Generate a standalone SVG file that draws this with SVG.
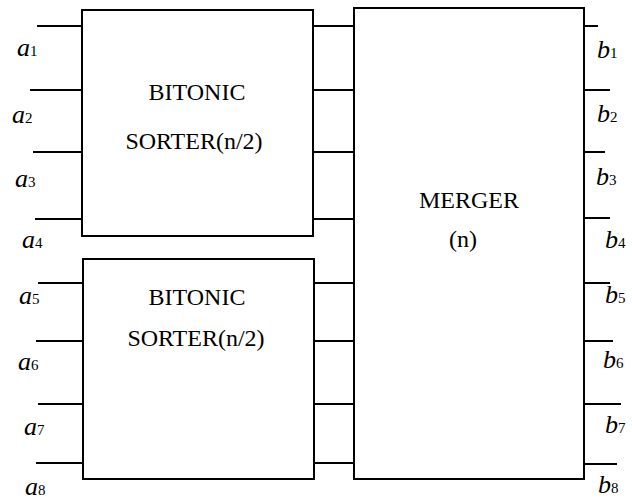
<svg xmlns="http://www.w3.org/2000/svg" width="632" height="501" viewBox="0 0 632 501">
<rect width="632" height="501" fill="#fff"/>
<g id="connectors" stroke="#000" stroke-width="2" fill="none">
<line x1="37" y1="26" x2="82" y2="26"/>
<line x1="30" y1="90" x2="82" y2="90"/>
<line x1="33" y1="152" x2="82" y2="152"/>
<line x1="35" y1="219" x2="82" y2="219"/>
<line x1="38" y1="283" x2="83" y2="283"/>
<line x1="36" y1="341" x2="83" y2="341"/>
<line x1="38" y1="404" x2="83" y2="404"/>
<line x1="36" y1="463" x2="83" y2="463"/>
<line x1="313" y1="26" x2="354" y2="26"/>
<line x1="313" y1="90" x2="354" y2="90"/>
<line x1="313" y1="152" x2="354" y2="152"/>
<line x1="313" y1="219" x2="354" y2="219"/>
<line x1="314" y1="283" x2="354" y2="283"/>
<line x1="314" y1="341" x2="354" y2="341"/>
<line x1="314" y1="404" x2="354" y2="404"/>
<line x1="314" y1="463" x2="354" y2="463"/>
<line x1="584" y1="26" x2="598" y2="26"/>
<line x1="584" y1="90" x2="610" y2="90"/>
<line x1="584" y1="152" x2="605" y2="152"/>
<line x1="584" y1="218" x2="610" y2="218"/>
<line x1="584" y1="283" x2="610" y2="283"/>
<line x1="584" y1="341" x2="613" y2="341"/>
<line x1="584" y1="404" x2="621" y2="404"/>
<line x1="584" y1="464" x2="617" y2="464"/>
</g>
<g id="sorter1">
<rect x="82" y="10" width="231" height="226" fill="#fff" stroke="#000" stroke-width="2"/>
<text font-family="Liberation Serif" font-size="24" x="197" y="100" text-anchor="middle">BITONIC</text>
<text font-family="Liberation Serif" font-size="24" x="194" y="149" text-anchor="middle">SORTER(n/2)</text>
</g>
<g id="sorter2">
<rect x="83" y="259" width="231" height="220" fill="#fff" stroke="#000" stroke-width="2"/>
<text font-family="Liberation Serif" font-size="24" x="197" y="305" text-anchor="middle">BITONIC</text>
<text font-family="Liberation Serif" font-size="24" x="196" y="346" text-anchor="middle">SORTER(n/2)</text>
</g>
<g id="merger">
<rect x="354" y="8" width="230" height="471" fill="#fff" stroke="#000" stroke-width="2"/>
<text font-family="Liberation Serif" font-size="24" x="469" y="208" text-anchor="middle">MERGER</text>
<text font-family="Liberation Serif" font-size="24" x="463" y="247" text-anchor="middle">(n)</text>
</g>
<g id="inputs">
<text font-family="Liberation Serif" font-size="26" font-style="italic" x="17" y="56">a<tspan font-size="15" font-style="normal">1</tspan></text>
<text font-family="Liberation Serif" font-size="26" font-style="italic" x="12" y="123">a<tspan font-size="15" font-style="normal">2</tspan></text>
<text font-family="Liberation Serif" font-size="26" font-style="italic" x="15" y="187">a<tspan font-size="15" font-style="normal">3</tspan></text>
<text font-family="Liberation Serif" font-size="26" font-style="italic" x="22" y="248">a<tspan font-size="15" font-style="normal">4</tspan></text>
<text font-family="Liberation Serif" font-size="26" font-style="italic" x="19" y="304">a<tspan font-size="15" font-style="normal">5</tspan></text>
<text font-family="Liberation Serif" font-size="26" font-style="italic" x="18" y="370">a<tspan font-size="15" font-style="normal">6</tspan></text>
<text font-family="Liberation Serif" font-size="26" font-style="italic" x="24" y="435">a<tspan font-size="15" font-style="normal">7</tspan></text>
<text font-family="Liberation Serif" font-size="26" font-style="italic" x="25" y="495">a<tspan font-size="15" font-style="normal">8</tspan></text>
</g>
<g id="outputs">
<text font-family="Liberation Serif" font-size="26" font-style="italic" x="597" y="58">b<tspan font-size="15" font-style="normal">1</tspan></text>
<text font-family="Liberation Serif" font-size="26" font-style="italic" x="597" y="122">b<tspan font-size="15" font-style="normal">2</tspan></text>
<text font-family="Liberation Serif" font-size="26" font-style="italic" x="596" y="185">b<tspan font-size="15" font-style="normal">3</tspan></text>
<text font-family="Liberation Serif" font-size="26" font-style="italic" x="605" y="248">b<tspan font-size="15" font-style="normal">4</tspan></text>
<text font-family="Liberation Serif" font-size="26" font-style="italic" x="605" y="303">b<tspan font-size="15" font-style="normal">5</tspan></text>
<text font-family="Liberation Serif" font-size="26" font-style="italic" x="603" y="368">b<tspan font-size="15" font-style="normal">6</tspan></text>
<text font-family="Liberation Serif" font-size="26" font-style="italic" x="605" y="433">b<tspan font-size="15" font-style="normal">7</tspan></text>
<text font-family="Liberation Serif" font-size="26" font-style="italic" x="598" y="493">b<tspan font-size="15" font-style="normal">8</tspan></text>
</g>
</svg>
